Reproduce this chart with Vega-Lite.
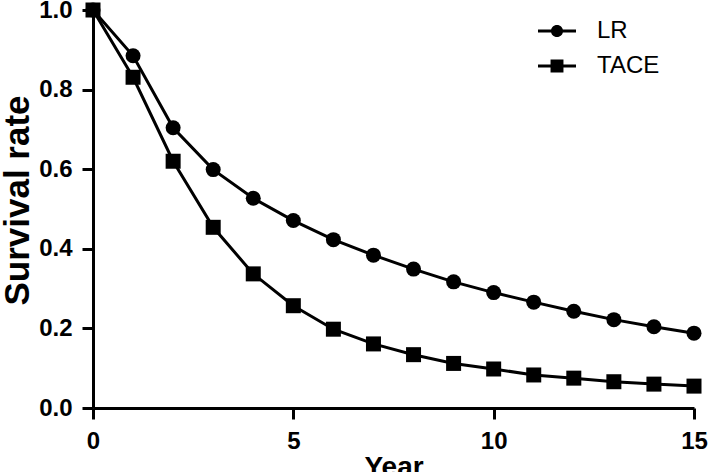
{
  "$schema": "https://vega.github.io/schema/vega-lite/v6.json",
  "width": 601,
  "height": 398,
  "autosize": {"type": "none"},
  "padding": {"left": 93, "top": 10, "right": 15, "bottom": 64},
  "background": "white",
  "config": {
    "view": {"stroke": null},
    "font": "Liberation Sans",
    "axis": {
      "grid": false,
      "domainColor": "black",
      "domainWidth": 3,
      "tickColor": "black",
      "tickWidth": 3,
      "tickSize": 11,
      "labelFont": "Liberation Sans",
      "labelFontWeight": "bold",
      "labelFontSize": 24,
      "labelColor": "black",
      "labelPadding": 10,
      "titleFont": "Liberation Sans",
      "titleFontWeight": "bold",
      "titleColor": "black"
    }
  },
  "data": {
    "values": [
      {"year": 0, "rate": 1.0, "group": "LR"},
      {"year": 1, "rate": 0.885, "group": "LR"},
      {"year": 2, "rate": 0.704, "group": "LR"},
      {"year": 3, "rate": 0.599, "group": "LR"},
      {"year": 4, "rate": 0.527, "group": "LR"},
      {"year": 5, "rate": 0.471, "group": "LR"},
      {"year": 6, "rate": 0.423, "group": "LR"},
      {"year": 7, "rate": 0.384, "group": "LR"},
      {"year": 8, "rate": 0.349, "group": "LR"},
      {"year": 9, "rate": 0.317, "group": "LR"},
      {"year": 10, "rate": 0.290, "group": "LR"},
      {"year": 11, "rate": 0.266, "group": "LR"},
      {"year": 12, "rate": 0.243, "group": "LR"},
      {"year": 13, "rate": 0.222, "group": "LR"},
      {"year": 14, "rate": 0.204, "group": "LR"},
      {"year": 15, "rate": 0.188, "group": "LR"},
      {"year": 0, "rate": 1.0, "group": "TACE"},
      {"year": 1, "rate": 0.831, "group": "TACE"},
      {"year": 2, "rate": 0.620, "group": "TACE"},
      {"year": 3, "rate": 0.454, "group": "TACE"},
      {"year": 4, "rate": 0.337, "group": "TACE"},
      {"year": 5, "rate": 0.257, "group": "TACE"},
      {"year": 6, "rate": 0.198, "group": "TACE"},
      {"year": 7, "rate": 0.161, "group": "TACE"},
      {"year": 8, "rate": 0.134, "group": "TACE"},
      {"year": 9, "rate": 0.112, "group": "TACE"},
      {"year": 10, "rate": 0.098, "group": "TACE"},
      {"year": 11, "rate": 0.083, "group": "TACE"},
      {"year": 12, "rate": 0.075, "group": "TACE"},
      {"year": 13, "rate": 0.066, "group": "TACE"},
      {"year": 14, "rate": 0.060, "group": "TACE"},
      {"year": 15, "rate": 0.055, "group": "TACE"}
    ]
  },
  "encoding": {
    "x": {
      "field": "year", "type": "quantitative",
      "scale": {"domain": [0, 15], "nice": false, "zero": false},
      "axis": {"values": [0, 5, 10, 15], "title": "Year", "titleFontSize": 28, "titlePadding": 0, "labelFlush": false}
    },
    "y": {
      "field": "rate", "type": "quantitative",
      "scale": {"domain": [0, 1], "nice": false},
      "axis": {"values": [0, 0.2, 0.4, 0.6, 0.8, 1.0], "format": ".1f", "title": "Survival rate", "titleFontSize": 35, "titlePadding": 3, "titleY": 190, "labelFlush": false}
    }
  },
  "resolve": {"scale": {"shape": "independent"}, "legend": {"shape": "independent"}},
  "layer": [
    {
      "mark": {"type": "line", "color": "black", "strokeWidth": 3},
      "encoding": {"detail": {"field": "group"}}
    },
    {
      "mark": {"type": "point", "filled": true, "color": "black", "opacity": 1, "size": 225},
      "encoding": {
        "shape": {
          "field": "group", "type": "nominal",
          "scale": {"domain": ["LR", "TACE"], "range": ["circle", "square"]},
          "legend": null
        }
      }
    },
    {
      "mark": {"type": "point", "filled": true, "color": "black", "opacity": 0, "size": 10},
      "encoding": {
        "shape": {
          "field": "group", "type": "nominal",
          "scale": {"domain": ["LR", "TACE"], "range": [
            "M-1,-0.08H-0.25V0.08H-1Z M0.25,-0.08H1V0.08H0.25Z M0.32,0A0.32,0.32 0 1 1 -0.32,0A0.32,0.32 0 1 1 0.32,0Z",
            "M-1,-0.08H-0.3V0.08H-1Z M0.3,-0.08H1V0.08H0.3Z M-0.34,-0.34H0.34V0.34H-0.34Z"
          ]},
          "legend": {
            "title": null,
            "orient": "none",
            "legendX": 445,
            "legendY": 2,
            "padding": 0,
            "symbolSize": 1444,
            "symbolFillColor": "black",
            "symbolStrokeColor": "black",
            "symbolStrokeWidth": 0,
            "symbolOpacity": 1,
            "labelFont": "Liberation Sans",
            "labelFontSize": 24,
            "labelColor": "black",
            "labelOffset": 21,
            "rowPadding": 4
          }
        }
      }
    }
  ]
}
